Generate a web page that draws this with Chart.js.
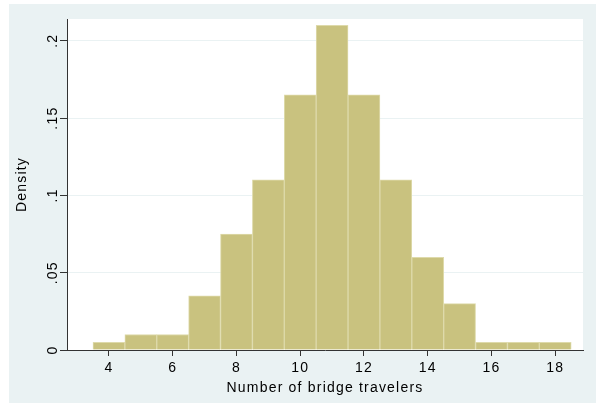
<!DOCTYPE html>
<html>
<head>
<meta charset="utf-8">
<script src="https://cdn.jsdelivr.net/npm/chart.js@4.4.0/dist/chart.umd.min.js"></script>
<style>
  html, body { margin: 0; padding: 0; background: #ffffff; }
  #panel { position: absolute; left: 9px; top: 4px; width: 587px; height: 399px; background: #eaf2f3; }
  canvas { display: block; }
</style>
</head>
<body>
<div id="panel"><canvas id="c" width="587" height="399"></canvas></div>
<script>
// Histogram bins (bin centres, width 1) and densities
const binCenters = [4, 5, 6, 7, 8, 9, 10, 11, 12, 13, 14, 15, 16, 17, 18];
const densities  = [0.005, 0.01, 0.01, 0.035, 0.075, 0.11, 0.165, 0.21, 0.165, 0.11, 0.06, 0.03, 0.005, 0.005, 0.005];
const xTickValues = [4, 6, 8, 10, 12, 14, 16, 18];
const yTickValues = [0, 0.05, 0.1, 0.15, 0.2];
const yTickLabels = ['0', '.05', '.1', '.15', '.2'];
const xTitle = 'Number of bridge travelers';
const yTitle = 'Density';

const points = binCenters.map((c, i) => ({ x: c, y: densities[i] }));

const spacing = {
  id: 'spacing',
  beforeUpdate(chart) { chart.ctx.letterSpacing = '1.2px'; },
  beforeDraw(chart) { chart.ctx.letterSpacing = '1.2px'; }
};

const plotBg = {
  id: 'plotBg',
  beforeDraw(chart) {
    const { ctx, chartArea: a } = chart;
    ctx.save();
    ctx.fillStyle = '#ffffff';
    ctx.fillRect(a.left, a.top, a.right - a.left, a.bottom - a.top);
    ctx.restore();
  }
};

const font = { family: '"Liberation Sans", Arial, sans-serif', size: 14 };

new Chart(document.getElementById('c'), {
  type: 'bar',
  data: {
    datasets: [{
      data: points,
      backgroundColor: '#c9c27f',
      borderColor: '#dedaab',
      borderWidth: 1,
      barPercentage: 1,
      categoryPercentage: 1,
      grouped: false
    }]
  },
  options: {
    responsive: false,
    animation: false,
    events: [],
    layout: { padding: { left: 0, top: 15, right: 13, bottom: 0 } },
    plugins: { legend: { display: false }, tooltip: { enabled: false } },
    scales: {
      x: {
        type: 'linear',
        offset: false,
        min: 2.685,
        max: 18.87,
        afterBuildTicks(s) { s.ticks = xTickValues.map(v => ({ value: v })); },
        afterFit(s) { s.height = 53; },
        ticks: { color: '#000', font, padding: 4, maxRotation: 0, autoSkip: false,
                 callback: v => String(v) },
        grid: { drawOnChartArea: false, drawTicks: true, tickLength: 6, tickColor: '#333', tickWidth: 1, offset: false },
        border: { display: true, color: '#333', width: 1 },
        title: { display: true, text: xTitle, color: '#000', font, padding: { top: 0, bottom: 6 } }
      },
      y: {
        type: 'linear',
        min: 0,
        max: 0.2141,
        afterBuildTicks(s) { s.ticks = yTickValues.map(v => ({ value: v })); },
        afterFit(s) { s.width = 58; },
        ticks: { color: '#000', font, padding: -5, minRotation: 90, maxRotation: 90, autoSkip: false,
                 crossAlign: 'center',
                 callback: (v) => { const i = yTickValues.indexOf(v); return i >= 0 ? yTickLabels[i] : ''; } },
        grid: { color: '#eaf2f3', lineWidth: 1, drawTicks: true, tickLength: 7, tickColor: '#333', tickWidth: 1 },
        border: { display: true, color: '#333', width: 1 },
        title: { display: true, text: yTitle, color: '#000', font, padding: { top: 5, bottom: 0 } }
      }
    }
  },
  plugins: [spacing, plotBg]
});
</script>
</body>
</html>
